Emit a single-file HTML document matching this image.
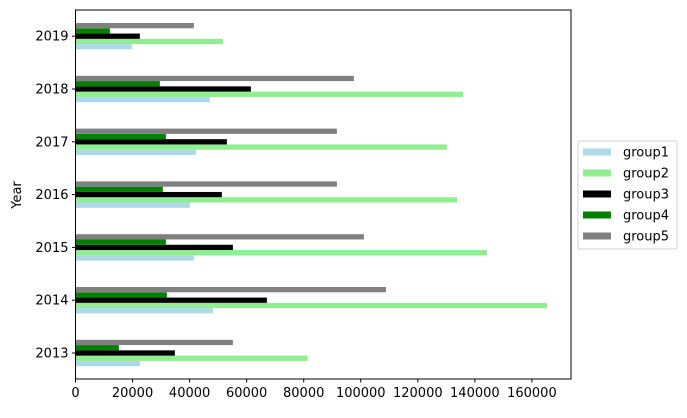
<!DOCTYPE html>
<html><head><meta charset="utf-8"><style>
html,body{margin:0;padding:0;background:#fff;}
svg text{font-family:"DejaVu Sans","Liberation Sans",sans-serif;font-size:13px;fill:#000;}
</style></head><body>
<svg id="chart" width="687" height="413" xmlns="http://www.w3.org/2000/svg"></svg>
<script>
const years = ['2013','2014','2015','2016','2017','2018','2019'];
const groupNames = ['group1','group2','group3','group4','group5'];
const groupColors = ['#add8e6','#90ee90','#000000','#008000','#808080'];
const group1 = [22560,48160,41500,40090,42200,47110,19750];
const group2 = [81360,165280,144250,133720,130210,135830,51670];
const group3 = [34830,67090,55170,51310,53070,61480,22560];
const group4 = [15200,32030,31680,30620,31680,29570,12040];
const group5 = [55170,108830,101110,91640,91640,97600,41500];
const xTicks = [0,20000,40000,60000,80000,100000,120000,140000,160000];
const xMax = 173700;

const series = [group1,group2,group3,group4,group5];
const NS='http://www.w3.org/2000/svg';
const svg=document.getElementById('chart');
const L=75.5,R=571,T=10,B=379;
const x=v=>L+v/xMax*(R-L);
const y0=353,yStep=52.8;
const y=i=>y0-i*yStep;
function el(t,a){const e=document.createElementNS(NS,t);for(const k in a)e.setAttribute(k,a[k]);svg.appendChild(e);return e;}

const bh=yStep*0.1;
series.forEach((s,g)=>{
  s.forEach((v,i)=>{
    const yc=y(i)+yStep*0.25-(g+0.5)*bh;
    const r=el('rect',{x:L,y:yc-bh/2,width:x(v)-L,height:bh,fill:groupColors[g]});
    
    
  });
});

const ax=el('rect',{x:L,y:T,width:R-L,height:B-T,fill:'none',stroke:'#000','stroke-width':1});



xTicks.forEach(t=>{
  const tx=x(t);
  const tk=el('line',{x1:tx,x2:tx,y1:B,y2:B+3.5,stroke:'#000'});
  
  
  const lb=el('text',{x:tx,y:B+18,'text-anchor':'middle'});
  lb.textContent=t;
  
  
});
years.forEach((yr,i)=>{
  const ty=y(i);
  const tk=el('line',{x1:L-3.5,x2:L,y1:ty,y2:ty,stroke:'#000'});
  
  
  const lb=el('text',{x:L-7,y:ty+4.5,'text-anchor':'end'});
  lb.textContent=yr;
  
  
});
const yt=el('text',{x:21,y:195,'text-anchor':'middle',transform:'rotate(-90 21 195)'});
yt.textContent='Year';



const lg=el('rect',{x:578,y:141,width:99,height:108,rx:2,fill:'#fff',stroke:'#d0d0d0'});


groupNames.forEach((n,g)=>{
  const cy=152+g*21;
  const p=el('rect',{x:583,y:cy-3.5,width:28,height:7,fill:groupColors[g]});
  
  
  const t=el('text',{x:623,y:cy+4.5});
  t.textContent=n;
  
  
});
</script>
</body></html>
